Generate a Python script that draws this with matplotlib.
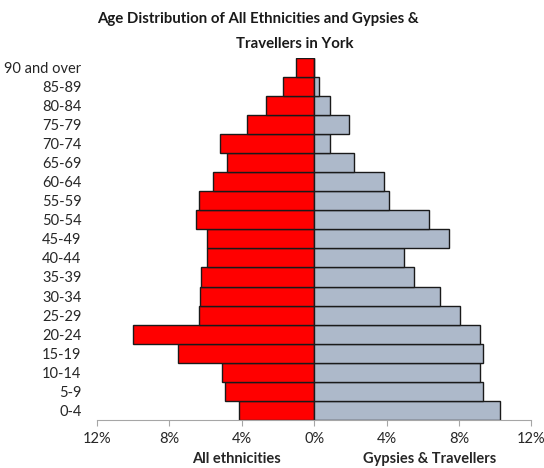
import numpy as np
import matplotlib.pyplot as plt

plt.rcParams['font.family'] = ['Lato', 'DejaVu Sans']

# --- data (percent of population in each age band) ---
age_groups = ["0-4", "5-9", "10-14", "15-19", "20-24", "25-29", "30-34",
              "35-39", "40-44", "45-49", "50-54", "55-59", "60-64", "65-69",
              "70-74", "75-79", "80-84", "85-89", "90 and over"]
all_ethnicities = [4.17, 4.93, 5.07, 7.53, 10.03, 6.36, 6.31, 6.24, 5.90, 5.90,
                   6.53, 6.38, 5.61, 4.80, 5.20, 3.69, 2.66, 1.70, 1.03]
gypsies_travellers = [10.24, 9.34, 9.13, 9.34, 9.15, 8.04, 6.94, 5.50, 4.94, 7.43,
                      6.33, 4.13, 3.86, 2.19, 0.85, 1.94, 0.85, 0.28, 0.0]
xtick_vals = [-12, -8, -4, 0, 4, 8, 12]
xtick_labels = ["12%", "8%", "4%", "0%", "4%", "8%", "12%"]

# --- figure ---
fig = plt.figure(figsize=(5.44, 4.68), dpi=100)
ax = fig.add_axes([0.178, 0.1026, 0.799, 0.774])

y = np.arange(len(age_groups))
ax.barh(y, -np.array(all_ethnicities), height=1.0, color="#FF0000",
        edgecolor="#1a1a1a", linewidth=1.0)
ax.barh(y, gypsies_travellers, height=1.0, color="#ADB9CA",
        edgecolor="#1a1a1a", linewidth=1.0)

ax.set_xlim(-12, 12)
ax.set_ylim(-0.5, len(age_groups) - 0.5)
ax.set_yticks(y)
ax.set_yticklabels(age_groups, fontsize=10.5, color="#262626")
ax.tick_params(axis="y", length=0, pad=11)
ax.set_xticks(xtick_vals)
ax.set_xticklabels(xtick_labels, fontsize=10.5, color="#262626")
ax.tick_params(axis="x", length=4, color="#a6a6a6", pad=5)

for side in ["top", "right", "left"]:
    ax.spines[side].set_visible(False)
ax.spines["bottom"].set_color("#a6a6a6")

# side captions under the axis
fig.text(236 / 544, 1 - 459 / 468, "All ethnicities", ha="center", va="center",
         fontsize=10.5, fontweight="bold", color="#262626")
fig.text(430 / 544, 1 - 459 / 468, "Gypsies & Travellers", ha="center", va="center",
         fontsize=10.5, fontweight="bold", color="#262626")

# title, two lines
fig.text(258 / 544, 1 - 23 / 468, "Age Distribution of All Ethnicities and Gypsies &",
         ha="center", va="baseline", fontsize=10.8, fontweight="bold", color="#1a1a1a")
fig.text(295 / 544, 1 - 48 / 468, "Travellers in York",
         ha="center", va="baseline", fontsize=10.8, fontweight="bold", color="#1a1a1a")

fig.savefig("out.png", dpi=100)
